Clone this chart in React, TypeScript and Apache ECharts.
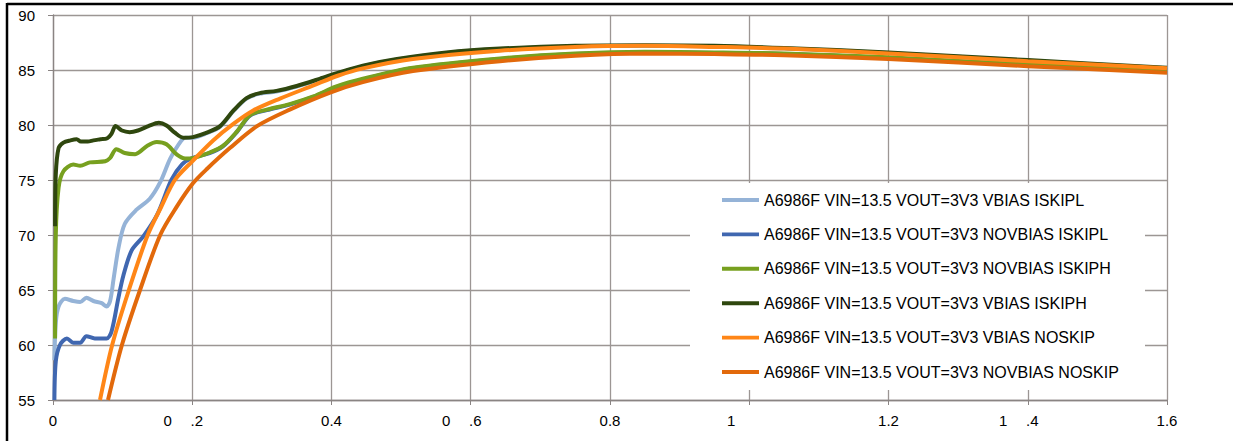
import React, { useEffect, useRef } from "react";
import * as echarts from "echarts";

// ---- axis ticks ----
const xTickValues = [0, 0.2, 0.4, 0.6, 0.8, 1, 1.2, 1.4, 1.6];
const xTickLabels = ["0", "0.2", "0.4", "0.6", "0.8", "1", "1.2", "1.4", "1.6"];
const yTickValues = [55, 60, 65, 70, 75, 80, 85, 90];

// ---- series names / colours ----
const seriesNames = [
  "A6986F VIN=13.5 VOUT=3V3 VBIAS ISKIPL",
  "A6986F VIN=13.5 VOUT=3V3 NOVBIAS ISKIPL",
  "A6986F VIN=13.5 VOUT=3V3 NOVBIAS ISKIPH",
  "A6986F VIN=13.5 VOUT=3V3 VBIAS ISKIPH",
  "A6986F VIN=13.5 VOUT=3V3 VBIAS NOSKIP",
  "A6986F VIN=13.5 VOUT=3V3 NOVBIAS NOSKIP",
];
const seriesColors = ["#95b3d7", "#4067b0", "#77a01f", "#2f470e", "#ff8617", "#e2690b"];

// ---- VBIAS ISKIPL (light blue) ----
const lbX = [0.002, 0.004, 0.008, 0.017, 0.029, 0.039, 0.048, 0.058, 0.070, 0.077, 0.082, 0.087, 0.094, 0.103, 0.120, 0.139, 0.154, 0.168, 0.180, 0.190,
  0.201, 0.221, 0.240, 0.259, 0.278, 0.297, 0.321, 0.350, 0.383, 0.412, 0.445, 0.494, 0.565, 0.642, 0.75, 0.85, 0.95, 1.05, 1.2, 1.4, 1.6];
const lbY = [58.6, 62.0, 63.5, 64.2, 64.0, 63.9, 64.3, 64.0, 63.8, 63.5, 64.0, 66.0, 68.8, 71.0, 72.3, 73.3, 74.8, 76.9, 78.2, 78.85,
  78.85, 79.25, 79.85, 81.25, 82.4, 82.85, 83.05, 83.5, 84.15, 84.75, 85.35, 85.95, 86.55, 86.9, 87.15, 87.2, 87.15, 86.95, 86.55, 85.85, 85.15];

// ---- NOVBIAS ISKIPL (blue) ----
const bX = [0.002, 0.004, 0.010, 0.020, 0.029, 0.039, 0.048, 0.060, 0.077, 0.084, 0.094, 0.101, 0.113, 0.130, 0.150, 0.170, 0.185, 0.200,
  0.225, 0.244, 0.264, 0.283, 0.307, 0.340, 0.374, 0.407, 0.445, 0.517, 0.642, 0.75, 0.85, 0.95, 1.05, 1.2, 1.4, 1.6];
const bY = [55.0, 58.5, 60.0, 60.6, 60.2, 60.2, 60.8, 60.6, 60.6, 61.2, 64.3, 66.3, 68.6, 69.9, 71.9, 75.0, 76.4, 77.0,
  77.45, 78.05, 79.35, 80.85, 81.35, 81.85, 82.55, 83.45, 84.15, 85.15, 86.0, 86.45, 86.6, 86.55, 86.45, 86.1, 85.45, 84.95];

// ---- NOVBIAS ISKIPH (green) ----
const gX = [0.003, 0.004, 0.008, 0.015, 0.029, 0.039, 0.053, 0.075, 0.082, 0.091, 0.103, 0.118, 0.135, 0.149, 0.163, 0.178, 0.190, 0.202,
  0.225, 0.244, 0.264, 0.283, 0.307, 0.340, 0.374, 0.407, 0.445, 0.517, 0.642, 0.75, 0.85, 0.95, 1.05, 1.2, 1.4, 1.6];
const gY = [60.6, 70.0, 74.3, 75.8, 76.4, 76.3, 76.6, 76.7, 77.0, 77.8, 77.45, 77.35, 78.1, 78.45, 78.25, 77.3, 76.95, 77.0,
  77.5, 78.1, 79.4, 80.9, 81.4, 81.9, 82.6, 83.5, 84.2, 85.2, 86.05, 86.5, 86.65, 86.6, 86.5, 86.15, 85.5, 85.0];

// ---- VBIAS ISKIPH (dark green) ----
const dgX = [0.003, 0.004, 0.008, 0.015, 0.025, 0.034, 0.040, 0.050, 0.058, 0.068, 0.078, 0.084, 0.090, 0.099, 0.110, 0.122, 0.137, 0.152, 0.163, 0.175, 0.187,
  0.201, 0.221, 0.240, 0.259, 0.278, 0.297, 0.321, 0.350, 0.383, 0.412, 0.445, 0.494, 0.565, 0.642, 0.75, 0.85, 0.95, 1.05, 1.2, 1.4, 1.6];
const dgY = [70.8, 75.5, 77.9, 78.4, 78.6, 78.7, 78.5, 78.5, 78.6, 78.7, 78.8, 79.2, 79.9, 79.5, 79.35, 79.5, 79.9, 80.2, 79.95, 79.3, 78.85,
  78.9, 79.3, 79.9, 81.3, 82.45, 82.9, 83.1, 83.55, 84.2, 84.8, 85.4, 86.0, 86.6, 86.95, 87.2, 87.25, 87.2, 87.0, 86.6, 85.9, 85.2];

// ---- VBIAS NOSKIP (orange) ----
const oX = [0.0675, 0.085, 0.109, 0.136, 0.155, 0.175, 0.200, 0.230, 0.259, 0.287, 0.326, 0.374, 0.410, 0.445, 0.517, 0.642, 0.75, 0.85, 0.95, 1.05, 1.2, 1.4, 1.6];
const oY = [55.0, 60.0, 65.0, 70.0, 72.5, 75.0, 76.7, 78.6, 80.1, 81.3, 82.4, 83.6, 84.5, 85.15, 86.0, 86.75, 87.1, 87.2, 87.1, 86.95, 86.5, 85.8, 85.15];

// ---- NOVBIAS NOSKIP (dark orange) ----
const doX = [0.079, 0.099, 0.125, 0.154, 0.178, 0.201, 0.221, 0.254, 0.293, 0.340, 0.398, 0.445, 0.517, 0.642, 0.75, 0.85, 0.95, 1.05, 1.2, 1.4, 1.6];
const doY = [55.0, 60.0, 65.0, 70.0, 72.6, 74.7, 76.0, 77.9, 79.9, 81.4, 82.95, 83.9, 84.9, 85.8, 86.3, 86.5, 86.45, 86.35, 86.0, 85.35, 84.75];

const seriesXs = [lbX, bX, gX, dgX, oX, doX];
const seriesYs = [lbY, bY, gY, dgY, oY, doY];

const FONT = "'Liberation Sans', Arial, sans-serif";

function formatXLabel(value: number): string {
  const idx = xTickValues.findIndex((v) => Math.abs(v - value) < 1e-6);
  const label = idx >= 0 ? xTickLabels[idx] : String(value);
  if (label === "0.2" || label === "0.6" || label === "1.4") {
    return `{a|${label.slice(0, 1)}}{b|${label.slice(1)}}`;
  }
  if (label === "1") return `{c|${label}}`;
  return label;
}

export default function App() {
  const ref = useRef<HTMLDivElement>(null);
  useEffect(() => {
    if (!ref.current) return;
    const chart = echarts.init(ref.current, null, { renderer: "svg" });
    const series = seriesNames.map((name, i) => ({
      name,
      type: "line",
      data: seriesXs[i].map((x, j) => [x, seriesYs[i][j]]),
      smooth: 0.3,
      symbol: "none",
      showSymbol: false,
      clip: true,
      lineStyle: { color: seriesColors[i], width: 4 },
      itemStyle: { color: seriesColors[i] },
      z: 2 + i * 0.01,
    }));
    chart.setOption({
      animation: false,
      backgroundColor: "#ffffff",
      grid: { left: 53, right: 66, top: 15, bottom: 41, containLabel: false },
      xAxis: {
        type: "value",
        min: 0,
        max: 1.6,
        interval: 0.2,
        axisLine: { show: true, lineStyle: { color: "#8a8483", width: 1.3 } },
        axisTick: { show: true, inside: false, length: 5, lineStyle: { color: "#8a8483" } },
        splitLine: { show: true, lineStyle: { color: "#9c9694", width: 1.3 } },
        axisLabel: {
          margin: 13,
          color: "#000",
          fontFamily: FONT,
          fontSize: 15,
          formatter: formatXLabel,
          rich: {
            a: { width: 27, align: "left", fontFamily: FONT, fontSize: 15, color: "#000" },
            b: { padding: [0, 18, 0, 0], fontFamily: FONT, fontSize: 15, color: "#000" },
            c: { padding: [0, 36, 0, 0], fontFamily: FONT, fontSize: 15, color: "#000" },
          },
        },
      },
      yAxis: {
        type: "value",
        min: 55,
        max: 90,
        interval: 5,
        axisLine: { show: true, lineStyle: { color: "#8a8483", width: 1.3 } },
        axisTick: { show: true, inside: false, length: 5, lineStyle: { color: "#8a8483" } },
        splitLine: { show: true, lineStyle: { color: "#9c9694", width: 1.3 } },
        axisLabel: {
          margin: 18,
          color: "#000",
          fontFamily: FONT,
          fontSize: 15,
          formatter: (v: number) => {
            const idx = yTickValues.findIndex((t) => Math.abs(t - v) < 1e-6);
            return idx >= 0 ? String(yTickValues[idx]) : String(v);
          },
        },
      },
      legend: {
        orient: "vertical",
        left: 722,
        top: 192,
        padding: 0,
        itemWidth: 37,
        itemHeight: 16,
        itemGap: 18.4,
        icon: "path://M0,0L38,0L38,4L0,4Z",
        data: seriesNames,
        textStyle: { fontFamily: FONT, fontSize: 16, color: "#000", lineHeight: 16 },
        selectedMode: false,
      },
      graphic: [
        {
          type: "rect",
          z: 3,
          shape: { x: 690, y: 183, width: 455, height: 207 },
          style: { fill: "#ffffff" },
        },
        {
          type: "line",
          z: 10,
          shape: { x1: 7, y1: 4, x2: 1233, y2: 4 },
          style: { stroke: "#000", lineWidth: 2.5 },
        },
        {
          type: "line",
          z: 10,
          shape: { x1: 7, y1: 3, x2: 7, y2: 441 },
          style: { stroke: "#000", lineWidth: 2.5 },
        },
      ],
      series,
    });
    return () => chart.dispose();
  }, []);
  return (
    <div
      ref={ref}
      style={{ position: "fixed", left: 0, top: 0, width: 1233, height: 441, background: "#fff" }}
    />
  );
}
